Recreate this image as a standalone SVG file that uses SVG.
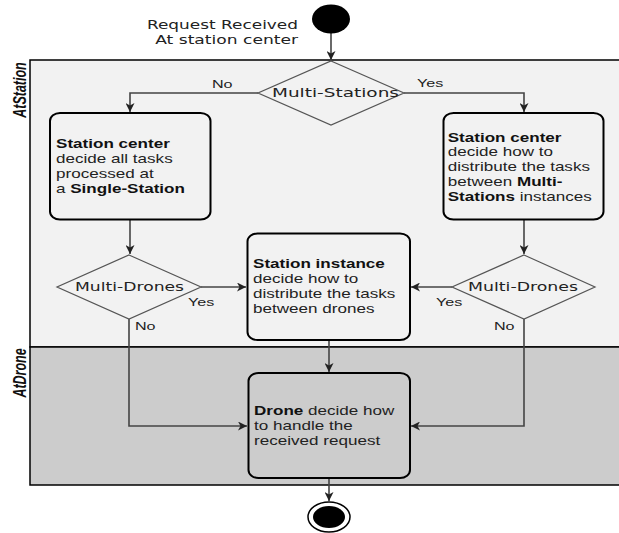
<svg xmlns="http://www.w3.org/2000/svg" width="619" height="533" viewBox="0 0 619 533">
<style>
.lane{stroke:#000;stroke-width:1.5}
.box{stroke:#000;stroke-width:2}
.dia{fill:#f2f2f2;stroke:#555;stroke-width:1.2}
.con{fill:none;stroke:#444;stroke-width:1.6}
.t{font-family:"Liberation Sans",Arial,sans-serif;font-size:12.2px;fill:#222}
.b{font-weight:bold;fill:#111}
.v{font-family:"DejaVu Sans",Verdana,sans-serif;font-size:12px;fill:#222}
.lbl{font-family:"Liberation Sans",Arial,sans-serif;font-size:11.5px;fill:#222}
.lane-t{font-family:"Liberation Sans",Arial,sans-serif;font-size:12.5px;font-weight:bold;font-style:italic;fill:#111}
</style>
<defs>
<marker id="ah" markerWidth="10" markerHeight="9" refX="9" refY="4.5" orient="auto" markerUnits="userSpaceOnUse">
<path d="M0,0 L9,4.5 L0,9 L2.5,4.5 z" fill="#222"/>
</marker>
</defs>
<rect width="619" height="533" fill="#fff"/>
<g id="lanes">
<rect class="lane" x="30" y="60" width="600" height="287" fill="#f2f2f2"/>
<rect class="lane" x="30" y="347" width="600" height="138" fill="#cccccc"/>
<text class="lane-t" text-anchor="middle" transform="translate(26,90) scale(1.4,1) rotate(-90)">AtStation</text>
<text class="lane-t" text-anchor="middle" transform="translate(26,373) scale(1.4,1) rotate(-90)">AtDrone</text>
</g>
<g id="connectors">
<path class="con" d="M331,33 V60" marker-end="url(#ah)"/>
<path class="con" d="M258,93 H130 V112" marker-end="url(#ah)"/>
<path class="con" d="M404,93 H524 V112" marker-end="url(#ah)"/>
<path class="con" d="M130,220 V254" marker-end="url(#ah)"/>
<path class="con" d="M524,220 V254" marker-end="url(#ah)"/>
<path class="con" d="M201,287 H246" marker-end="url(#ah)"/>
<path class="con" d="M452,287 H411" marker-end="url(#ah)"/>
<path class="con" d="M129,319 V426 H247" marker-end="url(#ah)"/>
<path class="con" d="M524,319 V426 H411" marker-end="url(#ah)"/>
<path class="con" d="M329,340 V372" marker-end="url(#ah)"/>
<path class="con" d="M329,478 V501" marker-end="url(#ah)"/>
<text class="lbl" x="212" y="88" transform="translate(212,0) scale(1.4,1) translate(-212,0)">No</text>
<text class="lbl" transform="matrix(1.4,0,0,1,417,87)">Yes</text>
<text class="lbl" transform="matrix(1.4,0,0,1,188,306)">Yes</text>
<text class="lbl" transform="matrix(1.4,0,0,1,135,330)">No</text>
<text class="lbl" transform="matrix(1.4,0,0,1,436,306)">Yes</text>
<text class="lbl" transform="matrix(1.4,0,0,1,494,330)">No</text>
</g>
<g id="start">
<ellipse cx="331" cy="19" rx="19" ry="14.5" fill="#000"/>
<text class="v" text-anchor="end" textLength="107.9" lengthAdjust="spacingAndGlyphs" transform="matrix(1.4,0,0,1,298,29)">Request Received</text>
<text class="v" text-anchor="end" textLength="102" lengthAdjust="spacingAndGlyphs" transform="matrix(1.4,0,0,1,298,43.5)">At station center</text>
</g>
<g id="multi-stations">
<polygon class="dia" points="331,61 404,93 331,125 258,93"/>
<text class="v" textLength="90.7" lengthAdjust="spacingAndGlyphs" transform="matrix(1.4,0,0,1,272,97)">Multi-Stations</text>
</g>
<g id="single-station">
<rect class="box" x="50" y="113" width="160.5" height="106.5" rx="10" ry="8" fill="#f2f2f2"/>
<text class="t" transform="matrix(1.4,0,0,1,56,148.3)"><tspan x="0" class="b">Station center</tspan><tspan x="0" dy="15">decide all tasks</tspan><tspan x="0" dy="15">processed at</tspan><tspan x="0" dy="15">a <tspan class="b">Single-Station</tspan></tspan></text>
</g>
<g id="multi-station-center">
<rect class="box" x="443.5" y="113" width="160" height="106.5" rx="10" ry="8" fill="#f2f2f2"/>
<text class="t" transform="matrix(1.4,0,0,1,447.7,141.7)"><tspan x="0" class="b">Station center</tspan><tspan x="0" dy="14.8">decide how to</tspan><tspan x="0" dy="14.8">distribute the tasks</tspan><tspan x="0" dy="14.8">between <tspan class="b">Multi-</tspan></tspan><tspan x="0" dy="14.8"><tspan class="b">Stations</tspan> instances</tspan></text>
</g>
<g id="multi-drones-left">
<polygon class="dia" points="129,255 201,287 129,319 57,287"/>
<text class="v" textLength="77.9" lengthAdjust="spacingAndGlyphs" transform="matrix(1.4,0,0,1,75,291)">Multi-Drones</text>
</g>
<g id="multi-drones-right">
<polygon class="dia" points="524,255 595,287 524,319 452,287"/>
<text class="v" textLength="78.6" lengthAdjust="spacingAndGlyphs" transform="matrix(1.4,0,0,1,468,291)">Multi-Drones</text>
</g>
<g id="station-instance">
<rect class="box" x="247.5" y="233.5" width="162.5" height="106.5" rx="10" ry="8" fill="#f2f2f2"/>
<text class="t" transform="matrix(1.4,0,0,1,253,268.3)"><tspan x="0" class="b">Station instance</tspan><tspan x="0" dy="15">decide how to</tspan><tspan x="0" dy="15">distribute the tasks</tspan><tspan x="0" dy="15">between drones</tspan></text>
</g>
<g id="drone">
<rect class="box" x="248.5" y="373" width="161.5" height="105" rx="10" ry="8" fill="#cccccc"/>
<text class="t" transform="matrix(1.4,0,0,1,254,415)"><tspan x="0"><tspan class="b">Drone</tspan> decide how</tspan><tspan x="0" dy="15">to handle the</tspan><tspan x="0" dy="15">received request</tspan></text>
</g>
<g id="end">
<ellipse cx="329" cy="517" rx="21" ry="15" fill="#fff" stroke="#000" stroke-width="1.5"/>
<ellipse cx="329" cy="517" rx="16" ry="11" fill="#000"/>
</g>
</svg>
